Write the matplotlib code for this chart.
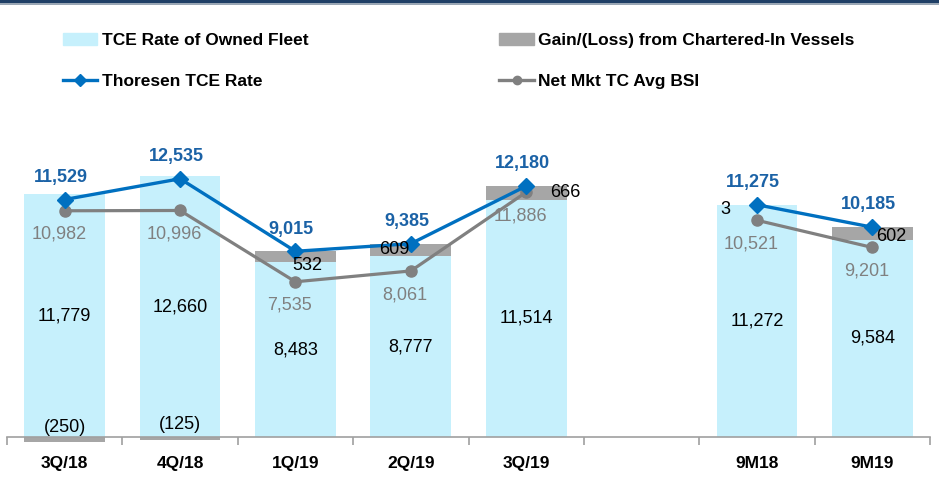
import numpy as np
import matplotlib
matplotlib.use("Agg")
import matplotlib.pyplot as plt
from matplotlib.patches import Patch
from matplotlib.lines import Line2D

plt.rcParams["font.family"] = ["Liberation Sans", "DejaVu Sans"]

categories = ["3Q/18", "4Q/18", "1Q/19", "2Q/19", "3Q/19", "", "9M18", "9M19"]
owned_fleet = [11779, 12660, 8483, 8777, 11514, np.nan, 11272, 9584]
chartered_gain = [-250, -125, 532, 609, 666, np.nan, 3, 602]
thoresen_tce = [11529, 12535, 9015, 9385, 12180, np.nan, 11275, 10185]
bsi_avg = [10982, 10996, 7535, 8061, 11886, np.nan, 10521, 9201]

# label nudges (pixels) for the gain/loss numbers
gain_offsets = [(0, 12), (0, 14), (12, -9), (-17, 0), (39, 0), (-32, -5), (19, -3)]

C_OWNED = "#C6F0FC"
C_GAIN = "#A6A6A6"
C_BLUE = "#0070C0"
C_BLUE_TXT = "#1B62A6"
C_GRAY = "#808080"

owned = np.array(owned_fleet, dtype=float)
gain = np.array(chartered_gain, dtype=float)
x = np.arange(len(categories))

fig = plt.figure(figsize=(9.39, 4.98), dpi=100)
ax = fig.add_axes([7 / 939, 61 / 498, 923 / 939, 329.6 / 498])

ax.bar(x, owned, width=0.70, color=C_OWNED, zorder=1)
gain_bottom = np.where(gain >= 0, owned, 0)
ax.bar(x, gain, bottom=gain_bottom, width=0.70, color=C_GAIN, zorder=1, clip_on=False)

ax.plot(x, bsi_avg, color=C_GRAY, lw=2.3, marker="o", ms=8, zorder=3)
ax.plot(x, thoresen_tce, color=C_BLUE, lw=2.4, marker="D", ms=8, zorder=4)

ax.set_xlim(-0.5, len(categories) - 0.5)
ax.set_ylim(0, 16000)

# labels
for i in range(len(categories)):
    if np.isnan(owned[i]):
        continue
    ax.text(x[i], owned[i] / 2, f"{owned[i]:,.0f}", ha="center", va="center",
            fontsize=13, color="black", zorder=5)
    ax.annotate(f"{thoresen_tce[i]:,.0f}", (x[i], thoresen_tce[i]),
                xytext=(-3, 16), textcoords="offset points", ha="center", va="center",
                fontsize=13, fontweight="bold", color=C_BLUE_TXT, zorder=5)
    ax.annotate(f"{bsi_avg[i]:,.0f}", (x[i], bsi_avg[i]),
                xytext=(-4, -17), textcoords="offset points", ha="center", va="center",
                fontsize=13, color=C_GRAY, zorder=5)

j = 0
for i in range(len(categories)):
    if np.isnan(gain[i]):
        continue
    g = gain[i]
    txt = f"({abs(g):,.0f})" if g < 0 else f"{g:,.0f}"
    yc = g / 2 if g < 0 else owned[i] + g / 2
    dx, dy = gain_offsets[j]
    j += 1
    ax.annotate(txt, (x[i], yc), xytext=(dx * 0.72, dy * 0.72), textcoords="offset points",
                ha="center", va="center", fontsize=13, color="black", zorder=5,
                annotation_clip=False)

# axes styling
for s in ["top", "right", "left"]:
    ax.spines[s].set_visible(False)
ax.spines["bottom"].set_color("#A0A0A0")
ax.spines["bottom"].set_linewidth(1.2)
ax.spines["bottom"].set_zorder(2)
ax.set_yticks([])
ax.set_xticks(x)
ax.set_xticklabels(categories, fontsize=12.5, fontweight="bold")
ax.tick_params(axis="x", which="major", length=0, pad=14)
ax.set_xticks(np.arange(-0.5, len(categories)), minor=True)
ax.tick_params(axis="x", which="minor", length=6, width=1.2, color="#A0A0A0")

# legend
handles = [
    Patch(color=C_OWNED, label="TCE Rate of Owned Fleet"),
    Line2D([], [], color=C_BLUE, lw=2.4, marker="D", ms=6, label="Thoresen TCE Rate"),
    Patch(color=C_GAIN, label="Gain/(Loss) from Chartered-In Vessels"),
    Line2D([], [], color=C_GRAY, lw=2.4, marker="o", ms=6, label="Net Mkt TC Avg BSI"),
]
fig.legend(handles=handles, ncol=2, loc="upper left", bbox_to_anchor=(54 / 939, 1 - 24 / 498),
           frameon=False, prop={"size": 12.5, "weight": "bold"}, handlelength=2.0,
           handletextpad=0.25, columnspacing=11.0, labelspacing=1.5, borderpad=0)

# slide header stripe
fig.add_artist(plt.Rectangle((0, 1 - 3 / 498), 1, 3 / 498, transform=fig.transFigure,
                             color="#1F3F66", lw=0))
fig.add_artist(plt.Rectangle((0, 1 - 5 / 498), 1, 2 / 498, transform=fig.transFigure,
                             color="#9AA7B5", lw=0))

fig.savefig("out.png", dpi=100)
